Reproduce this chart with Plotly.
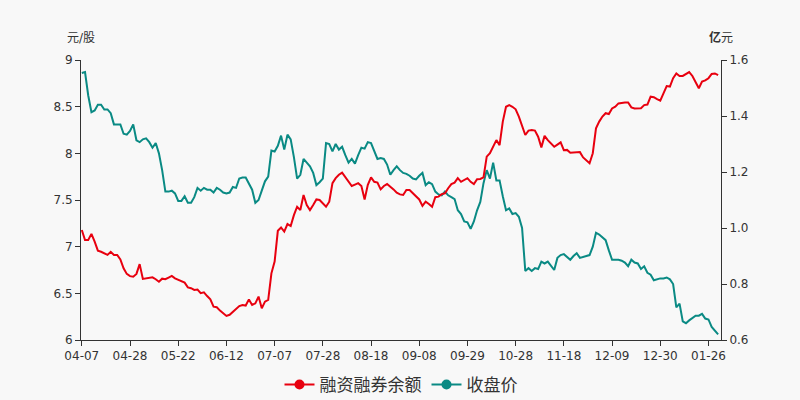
import plotly.graph_objects as go

TICK_LABELS = ["04-07", "04-28", "05-22", "06-12", "07-07", "07-28", "08-18",
               "09-08", "09-29", "10-28", "11-18", "12-09", "12-30", "01-26"]

# 收盘价 (元/股), one value per trading day
close_price = [
    8.86, 8.87, 8.62, 8.44, 8.46, 8.52, 8.52, 8.47, 8.47, 8.43,
    8.31, 8.31, 8.31, 8.21, 8.20, 8.24, 8.31, 8.14, 8.12, 8.15,
    8.16, 8.12, 8.06, 8.11, 8.00, 7.82, 7.59, 7.59, 7.60, 7.57,
    7.49, 7.49, 7.54, 7.47, 7.47, 7.53, 7.63, 7.60, 7.63, 7.61,
    7.61, 7.58, 7.63, 7.61, 7.58, 7.57, 7.58, 7.64, 7.63, 7.73,
    7.74, 7.74, 7.68, 7.61, 7.47, 7.50, 7.60, 7.70, 7.75, 8.03,
    8.02, 8.08, 8.19, 8.04, 8.20, 8.15, 7.96, 7.73, 7.77, 7.94,
    7.90, 7.86, 7.79, 7.66, 7.69, 7.73, 8.11, 8.10, 8.02, 8.10,
    8.04, 8.07, 7.98, 7.90, 7.94, 7.89, 7.98, 8.06, 8.05, 8.12,
    8.11, 8.02, 7.94, 7.95, 7.94, 7.88, 7.77, 7.82, 7.86, 7.82,
    7.79, 7.78, 7.76, 7.73, 7.72, 7.76, 7.79, 7.66, 7.69, 7.67,
    7.59, 7.56, 7.55, 7.59, 7.55, 7.53, 7.51, 7.39, 7.35, 7.27,
    7.26, 7.19, 7.27, 7.39, 7.48, 7.68, 7.82, 7.73, 7.90, 7.71,
    7.71, 7.54, 7.39, 7.41, 7.35, 7.36, 7.32, 7.20, 6.74, 6.77,
    6.74, 6.77, 6.76, 6.84, 6.82, 6.84, 6.80, 6.75, 6.88, 6.91,
    6.92, 6.89, 6.86, 6.90, 6.93, 6.88, 6.89, 6.90, 6.91, 7.00,
    7.15, 7.13, 7.10, 7.07, 6.96, 6.86, 6.86, 6.86, 6.85, 6.83,
    6.79, 6.86, 6.83, 6.82, 6.76, 6.79, 6.72, 6.70, 6.64, 6.65,
    6.66, 6.66, 6.67, 6.65, 6.60, 6.35, 6.39, 6.20, 6.18, 6.21,
    6.24, 6.26, 6.26, 6.28, 6.23, 6.22, 6.14, 6.10, 6.06,
]

# 融资融券余额 (亿元), one value per trading day
margin_balance = [
    0.993, 0.957, 0.957, 0.979, 0.951, 0.919, 0.915, 0.910, 0.904, 0.915,
    0.904, 0.904, 0.888, 0.856, 0.836, 0.828, 0.826, 0.836, 0.871, 0.818,
    0.820, 0.822, 0.824, 0.817, 0.808, 0.819, 0.817, 0.823, 0.829, 0.820,
    0.814, 0.808, 0.805, 0.788, 0.785, 0.779, 0.780, 0.767, 0.770, 0.757,
    0.745, 0.719, 0.717, 0.705, 0.695, 0.686, 0.690, 0.701, 0.712, 0.721,
    0.725, 0.723, 0.745, 0.725, 0.731, 0.755, 0.713, 0.737, 0.743, 0.838,
    0.880, 0.990, 1.002, 0.987, 1.014, 1.007, 1.046, 1.076, 1.064, 1.118,
    1.082, 1.064, 1.082, 1.102, 1.100, 1.086, 1.076, 1.094, 1.160, 1.178,
    1.190, 1.198, 1.183, 1.165, 1.150, 1.155, 1.160, 1.150, 1.102, 1.154,
    1.181, 1.165, 1.162, 1.138, 1.150, 1.157, 1.148, 1.138, 1.126, 1.120,
    1.118, 1.136, 1.136, 1.124, 1.114, 1.102, 1.079, 1.094, 1.086, 1.076,
    1.110, 1.112, 1.121, 1.124, 1.142, 1.157, 1.162, 1.178, 1.165, 1.171,
    1.178, 1.165, 1.157, 1.174, 1.175, 1.181, 1.255, 1.267, 1.288, 1.314,
    1.296, 1.380, 1.433, 1.439, 1.433, 1.424, 1.398, 1.368, 1.332, 1.348,
    1.350, 1.348, 1.326, 1.288, 1.329, 1.314, 1.302, 1.290, 1.298, 1.306,
    1.278, 1.279, 1.269, 1.270, 1.269, 1.271, 1.252, 1.240, 1.231, 1.267,
    1.356, 1.380, 1.398, 1.410, 1.407, 1.427, 1.433, 1.445, 1.447, 1.448,
    1.448, 1.431, 1.427, 1.428, 1.428, 1.439, 1.441, 1.469, 1.467, 1.460,
    1.455, 1.481, 1.507, 1.505, 1.535, 1.552, 1.543, 1.543, 1.550, 1.557,
    1.543, 1.519, 1.499, 1.523, 1.527, 1.535, 1.550, 1.552, 1.546,
]

RED = "#e8000f"
TEAL = "#0a8a84"
TXT = "#333333"
FONT = "DejaVu Sans, Noto Sans CJK SC, sans-serif"

n = len(close_price)
x_idx = list(range(n))
tick_vals = list(range(0, n, 15))[:len(TICK_LABELS)]

fig = go.Figure()
fig.add_trace(go.Scatter(x=x_idx, y=margin_balance, yaxis="y2", mode="lines",
                         line=dict(color=RED, width=2), showlegend=False,
                         name="融资融券余额"))
fig.add_trace(go.Scatter(x=x_idx, y=close_price, mode="lines",
                         line=dict(color=TEAL, width=2), showlegend=False,
                         name="收盘价"))
# legend entries
fig.add_trace(go.Scatter(x=[None], y=[None], mode="lines+markers", name="融资融券余额",
                         line=dict(color=RED, width=2), marker=dict(color=RED, size=10)))
fig.add_trace(go.Scatter(x=[None], y=[None], mode="lines+markers", name="收盘价",
                         line=dict(color=TEAL, width=2), marker=dict(color=TEAL, size=10)))

axis_common = dict(showgrid=False, zeroline=False, showline=True, linecolor=TXT,
                   linewidth=1, ticks="outside", ticklen=5, tickcolor=TXT,
                   tickfont=dict(size=12, color=TXT, family=FONT))

fig.update_layout(
    width=800, height=400,
    margin=dict(l=81, r=79, t=60, b=60, autoexpand=False),
    paper_bgcolor="#f8f8f8", plot_bgcolor="#f8f8f8",
    font=dict(family=FONT, color=TXT),
    xaxis=dict(range=[-0.25, 198.9], tickvals=tick_vals, ticktext=TICK_LABELS, **axis_common),
    yaxis=dict(range=[6, 9], dtick=0.5, **axis_common),
    yaxis2=dict(range=[0.6, 1.6], dtick=0.2, overlaying="y", side="right",
                tickformat=".1f", **axis_common),
    legend=dict(orientation="h", x=0.5, xanchor="center",
                yref="container", y=0.0375, yanchor="middle",
                font=dict(size=17, color=TXT, family=FONT), bgcolor="rgba(0,0,0,0)",
                itemwidth=30),
    annotations=[
        dict(text="元/股", xref="paper", yref="paper", x=0, y=1.079, showarrow=False,
             xanchor="center", yanchor="middle", font=dict(size=12, color=TXT)),
        dict(text="<b>亿</b>元", xref="paper", yref="paper", x=1, y=1.079, showarrow=False,
             xanchor="center", yanchor="middle", font=dict(size=12, color=TXT)),
    ],
)

fig.write_html("out.html", config={"displayModeBar": False},
               post_script="document.body.style.margin='0';document.body.style.overflow='hidden';")
